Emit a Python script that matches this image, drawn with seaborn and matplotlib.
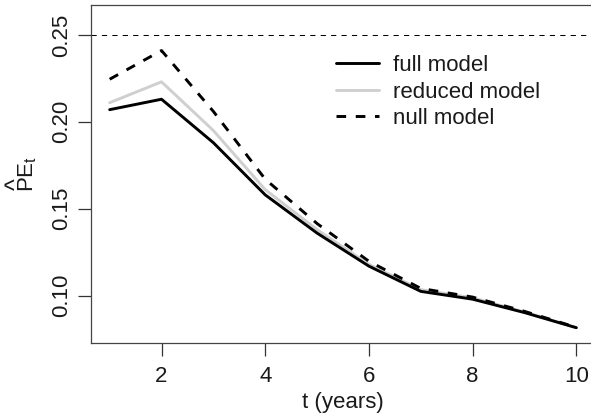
import matplotlib
matplotlib.use("Agg")
import matplotlib.pyplot as plt
import seaborn as sns
import pandas as pd
from matplotlib.lines import Line2D

# Prediction error over time for three competing models
t_years = [1, 2, 3, 4, 5, 6, 7, 8, 9, 10]
full_model = [0.207, 0.213, 0.188, 0.158, 0.136, 0.117, 0.1025, 0.098, 0.0903, 0.0816]
reduced_model = [0.211, 0.223, 0.195, 0.161, 0.138, 0.118, 0.1035, 0.0988, 0.0906, 0.0816]
null_model = [0.2245, 0.241, 0.206, 0.167, 0.1415, 0.1198, 0.1042, 0.0992, 0.091, 0.0818]
reference_level = 0.25

x_ticks = [2, 4, 6, 8, 10]
y_ticks = [0.10, 0.15, 0.20, 0.25]
y_tick_labels = ["0.10", "0.15", "0.20", "0.25"]
series_names = ["full model", "reduced model", "null model"]

sns.set_style("ticks")
plt.rcParams["font.family"] = ["Liberation Sans", "DejaVu Sans"]
plt.rcParams["mathtext.fontset"] = "custom"
plt.rcParams["mathtext.rm"] = "Liberation Sans"
plt.rcParams["mathtext.it"] = "Liberation Sans"

df = pd.DataFrame({
    "t": t_years * 3,
    "pe": full_model + reduced_model + null_model,
    "model": [series_names[0]] * 10 + [series_names[1]] * 10 + [series_names[2]] * 10,
})

W, H = 591, 415
fig = plt.figure(figsize=(W / 100, H / 100), dpi=100)
ax = fig.add_axes([91 / W, 1 - 343 / H, (595 - 91) / W, (343 - 5) / H])

lw = 2.1
styles = {
    "full model": dict(color="black", linestyle="-"),
    "reduced model": dict(color="#cfcfcf", linestyle="-"),
    "null model": dict(color="black", linestyle=(0, (3.3, 3.3))),
}
for name in ["reduced model", "full model", "null model"]:
    sub = df[df["model"] == name]
    sns.lineplot(data=sub, x="t", y="pe", ax=ax, linewidth=lw,
                 solid_joinstyle="round", dash_capstyle="butt", **styles[name])

ax.axhline(reference_level, color="black", linewidth=0.75,
           linestyle=(0, (5, 5)))

ax.set_xlim(0.64, 10.36)
ax.set_ylim(0.0728, 0.2672)
ax.set_xticks(x_ticks)
ax.set_xticklabels([str(v) for v in x_ticks])
ax.set_yticks(y_ticks)
ax.set_yticklabels(y_tick_labels, rotation=90, va="center")

ax.tick_params(axis="both", direction="out", length=9.5, width=0.9,
               colors="#333333", labelcolor="#1a1a1a", labelsize=16)
ax.tick_params(axis="x", pad=7)
ax.tick_params(axis="y", pad=4)
for s in ax.spines.values():
    s.set_visible(True)
    s.set_color("#444444")
    s.set_linewidth(0.9)

ax.set_xlabel("t (years)", fontsize=16, color="#1a1a1a", labelpad=4)
ax.set_ylabel(r"$\mathrm{PE}_t$", fontsize=16, color="#1a1a1a")
ax.yaxis.set_label_coords(-0.104, 0.5)
# estimator hat placed above the "PE" symbol
fig.text(16.5 / W, 1 - 184.5 / H, "^", rotation=90, ha="center", va="center",
         fontsize=18, color="#1a1a1a")

legend_handles = [Line2D([0], [0], lw=lw, **styles[n]) for n in series_names]
leg = ax.legend(legend_handles, series_names, loc="upper left",
                bbox_to_anchor=(336 / W, 1 - 55 / H),
                bbox_transform=fig.transFigure, frameon=False,
                fontsize=16, handlelength=1.95, handletextpad=0.6,
                labelspacing=0.25, borderpad=0, borderaxespad=0)
for txt in leg.get_texts():
    txt.set_color("#1a1a1a")

fig.savefig("out.png", dpi=100)
